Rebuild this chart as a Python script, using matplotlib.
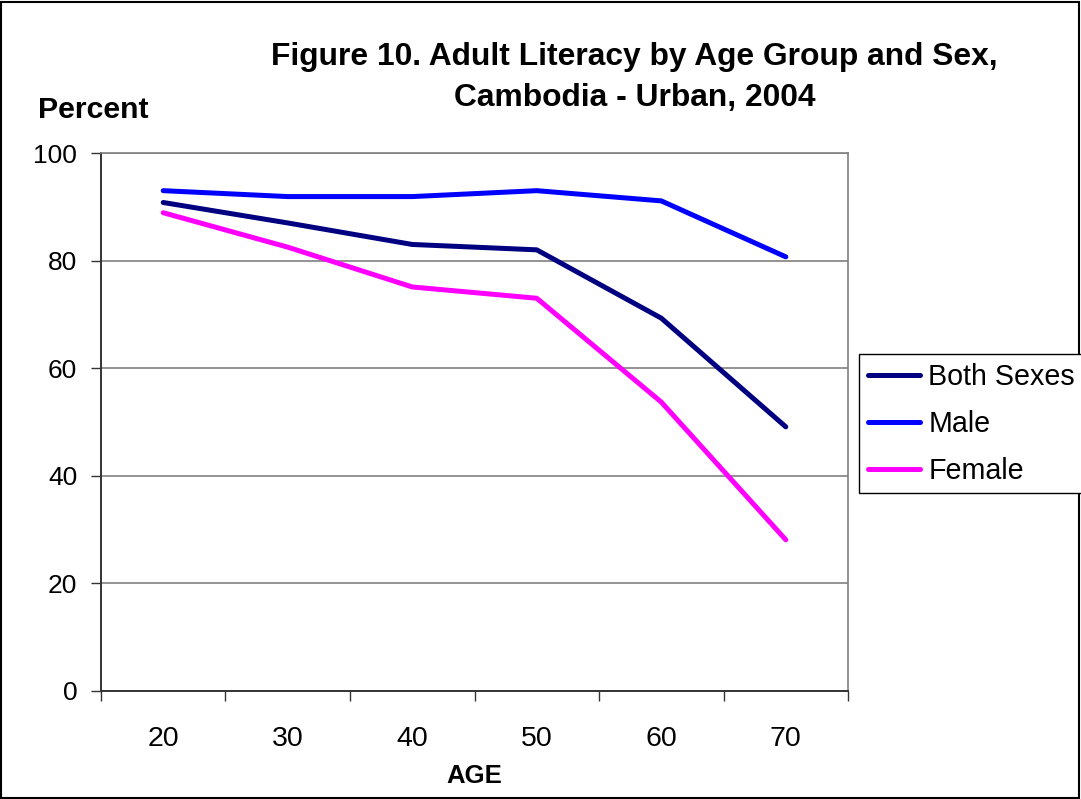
import matplotlib.pyplot as plt
from matplotlib.patches import Rectangle

ages = ['20', '30', '40', '50', '60', '70']
both_sexes = [90.8, 87.0, 83.0, 82.0, 69.3, 49.1]
male = [93.0, 91.9, 91.9, 93.0, 91.1, 80.7]
female = [88.9, 82.5, 75.1, 73.0, 53.7, 28.1]

plt.rcParams['font.family'] = ['Liberation Sans', 'DejaVu Sans']

fig = plt.figure(figsize=(10.81, 7.99), dpi=100)
ax = fig.add_axes([0.0934, 0.1352, 0.6911, 0.6733])

x = list(range(len(ages)))
style = dict(lw=3.6, solid_capstyle='round', solid_joinstyle='round')
ax.plot(x, both_sexes, color='#000080', label='Both Sexes', **style)
ax.plot(x, male, color='#0000FF', label='Male', **style)
ax.plot(x, female, color='#FF00FF', label='Female', **style)

ax.set_xlim(-0.5, len(ages) - 0.5)
ax.set_ylim(0, 100)
ax.set_yticks(range(0, 101, 20))
ax.yaxis.grid(True, color='#808080', lw=1.2)
ax.set_axisbelow(True)

# labels sit under the categories, tick marks between them
ax.set_xticks(x)
ax.set_xticklabels(ages)
ax.set_xticks([i - 0.5 for i in range(len(ages) + 1)], minor=True)
ax.tick_params(axis='x', which='major', length=0, pad=25, labelsize=20.5)
ax.tick_params(axis='x', which='minor', length=7, width=1, color='#333333')
ax.tick_params(axis='y', length=7, width=1, color='#333333', pad=10, labelsize=19)

for side in ['top', 'right']:
    ax.spines[side].set_color('#808080')
    ax.spines[side].set_linewidth(1.2)
for side in ['left', 'bottom']:
    ax.spines[side].set_color('#333333')
    ax.spines[side].set_linewidth(1.4)

ax.set_xlabel('AGE', fontsize=18.5, fontweight='bold', va='baseline')
ax.xaxis.set_label_coords(0.5, -0.171)

fig.text(0.587, 0.9186, 'Figure 10. Adult Literacy by Age Group and Sex,',
         ha='center', va='baseline', fontsize=22.9, fontweight='bold')
fig.text(0.587, 0.8673, 'Cambodia - Urban, 2004',
         ha='center', va='baseline', fontsize=22.9, fontweight='bold')
fig.text(0.0352, 0.8523, 'Percent', ha='left', va='baseline', fontsize=21.8, fontweight='bold')

leg = fig.legend(loc='upper left', bbox_to_anchor=(0.7946, 0.5565), fontsize=20.6,
                 frameon=True, fancybox=False, edgecolor='black', framealpha=1,
                 handlelength=1.85, handletextpad=0.28, labelspacing=0.66,
                 borderpad=0.3, borderaxespad=0)
leg.get_frame().set_linewidth(1)

# outer border round the whole figure
fig.patches.append(Rectangle((0.001, 0.001), 0.997, 0.997, transform=fig.transFigure,
                             fill=False, edgecolor='black', lw=1.5))

fig.savefig('out.png', dpi=100)
